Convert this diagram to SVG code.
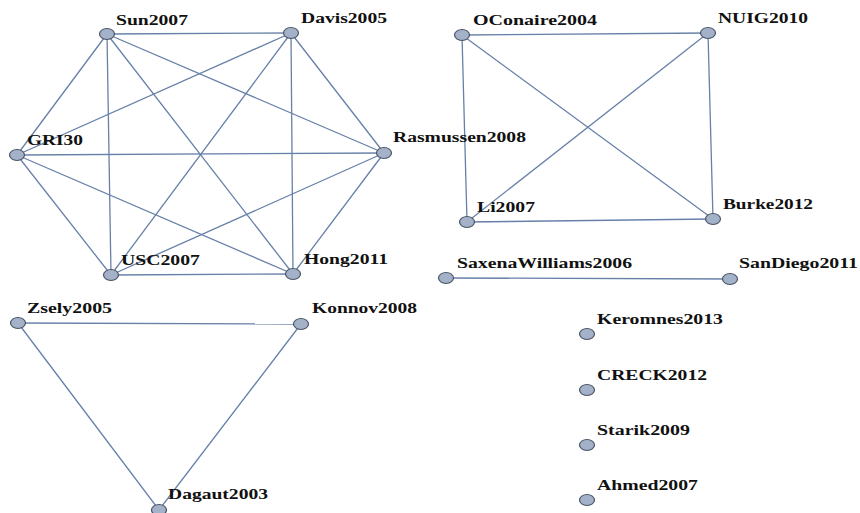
<svg xmlns="http://www.w3.org/2000/svg" width="860" height="513" viewBox="0 0 860 513">
<style>
.e{stroke:#6780a8;stroke-width:1.3;fill:none}
.n{fill:#a3b1c9;stroke:#4a5566;stroke-width:1.2}
.t{font-family:"Liberation Serif","Times New Roman",serif;font-weight:bold;font-size:15px;fill:#111}
</style>
<rect width="860" height="513" fill="#fff"/>
<g id="edges">
<line class="e" x1="107" y1="34" x2="291" y2="33"/>
<line class="e" x1="107" y1="34" x2="17" y2="155"/>
<line class="e" x1="107" y1="34" x2="384" y2="153"/>
<line class="e" x1="107" y1="34" x2="111" y2="275"/>
<line class="e" x1="107" y1="34" x2="293" y2="274"/>
<line class="e" x1="291" y1="33" x2="17" y2="155"/>
<line class="e" x1="291" y1="33" x2="384" y2="153"/>
<line class="e" x1="291" y1="33" x2="111" y2="275"/>
<line class="e" x1="291" y1="33" x2="293" y2="274"/>
<line class="e" x1="17" y1="155" x2="384" y2="153"/>
<line class="e" x1="17" y1="155" x2="111" y2="275"/>
<line class="e" x1="17" y1="155" x2="293" y2="274"/>
<line class="e" x1="384" y1="153" x2="111" y2="275"/>
<line class="e" x1="384" y1="153" x2="293" y2="274"/>
<line class="e" x1="111" y1="275" x2="293" y2="274"/>
<line class="e" x1="462" y1="35" x2="708" y2="33"/>
<line class="e" x1="462" y1="35" x2="467" y2="222"/>
<line class="e" x1="462" y1="35" x2="713" y2="219"/>
<line class="e" x1="708" y1="33" x2="467" y2="222"/>
<line class="e" x1="708" y1="33" x2="713" y2="219"/>
<line class="e" x1="467" y1="222" x2="713" y2="219"/>
<line class="e" x1="446" y1="278" x2="730" y2="279"/>
<line class="e" x1="18" y1="323" x2="301" y2="324"/>
<line class="e" x1="18" y1="323" x2="159" y2="510"/>
<line class="e" x1="301" y1="324" x2="159" y2="510"/>
</g>
<g id="Sun2007"><ellipse class="n" cx="107" cy="34" rx="7.5" ry="5.5"/><text class="t" x="116" y="25" textLength="72" lengthAdjust="spacingAndGlyphs">Sun2007</text></g>
<g id="Davis2005"><ellipse class="n" cx="291" cy="33" rx="7.5" ry="5.5"/><text class="t" x="301" y="23" textLength="86" lengthAdjust="spacingAndGlyphs">Davis2005</text></g>
<g id="GRI30"><ellipse class="n" cx="17" cy="155" rx="7.5" ry="5.5"/><text class="t" x="27" y="145" textLength="56" lengthAdjust="spacingAndGlyphs">GRI30</text></g>
<g id="Rasmussen2008"><ellipse class="n" cx="384" cy="153" rx="7.5" ry="5.5"/><text class="t" x="393" y="142" textLength="133" lengthAdjust="spacingAndGlyphs">Rasmussen2008</text></g>
<g id="USC2007"><ellipse class="n" cx="111" cy="275" rx="7.5" ry="5.5"/><text class="t" x="121" y="265" textLength="79" lengthAdjust="spacingAndGlyphs">USC2007</text></g>
<g id="Hong2011"><ellipse class="n" cx="293" cy="274" rx="7.5" ry="5.5"/><text class="t" x="304" y="264" textLength="84" lengthAdjust="spacingAndGlyphs">Hong2011</text></g>
<g id="OConaire2004"><ellipse class="n" cx="462" cy="35" rx="7.5" ry="5.5"/><text class="t" x="473" y="25" textLength="124" lengthAdjust="spacingAndGlyphs">OConaire2004</text></g>
<g id="NUIG2010"><ellipse class="n" cx="708" cy="33" rx="7.5" ry="5.5"/><text class="t" x="718" y="23" textLength="90" lengthAdjust="spacingAndGlyphs">NUIG2010</text></g>
<g id="Li2007"><ellipse class="n" cx="467" cy="222" rx="7.5" ry="5.5"/><text class="t" x="477" y="212" textLength="58" lengthAdjust="spacingAndGlyphs">Li2007</text></g>
<g id="Burke2012"><ellipse class="n" cx="713" cy="219" rx="7.5" ry="5.5"/><text class="t" x="723" y="209" textLength="90" lengthAdjust="spacingAndGlyphs">Burke2012</text></g>
<g id="SaxenaWilliams2006"><ellipse class="n" cx="446" cy="278" rx="7.5" ry="5.5"/><text class="t" x="457" y="268" textLength="175" lengthAdjust="spacingAndGlyphs">SaxenaWilliams2006</text></g>
<g id="SanDiego2011"><ellipse class="n" cx="730" cy="279" rx="7.5" ry="5.5"/><text class="t" x="739" y="268" textLength="119" lengthAdjust="spacingAndGlyphs">SanDiego2011</text></g>
<g id="Zsely2005"><ellipse class="n" cx="18" cy="323" rx="7.5" ry="5.5"/><text class="t" x="27" y="313" textLength="85" lengthAdjust="spacingAndGlyphs">Zsely2005</text></g>
<g id="Konnov2008"><ellipse class="n" cx="301" cy="324" rx="7.5" ry="5.5"/><text class="t" x="312" y="313" textLength="105" lengthAdjust="spacingAndGlyphs">Konnov2008</text></g>
<g id="Dagaut2003"><ellipse class="n" cx="159" cy="510" rx="7.5" ry="5.5"/><text class="t" x="168" y="499" textLength="100" lengthAdjust="spacingAndGlyphs">Dagaut2003</text></g>
<g id="Keromnes2013"><ellipse class="n" cx="587" cy="334" rx="7.5" ry="5.5"/><text class="t" x="597" y="324" textLength="126" lengthAdjust="spacingAndGlyphs">Keromnes2013</text></g>
<g id="CRECK2012"><ellipse class="n" cx="587" cy="390" rx="7.5" ry="5.5"/><text class="t" x="597" y="380" textLength="110" lengthAdjust="spacingAndGlyphs">CRECK2012</text></g>
<g id="Starik2009"><ellipse class="n" cx="587" cy="445" rx="7.5" ry="5.5"/><text class="t" x="597" y="435" textLength="93" lengthAdjust="spacingAndGlyphs">Starik2009</text></g>
<g id="Ahmed2007"><ellipse class="n" cx="587" cy="500" rx="7.5" ry="5.5"/><text class="t" x="597" y="490" textLength="101" lengthAdjust="spacingAndGlyphs">Ahmed2007</text></g>
</svg>
